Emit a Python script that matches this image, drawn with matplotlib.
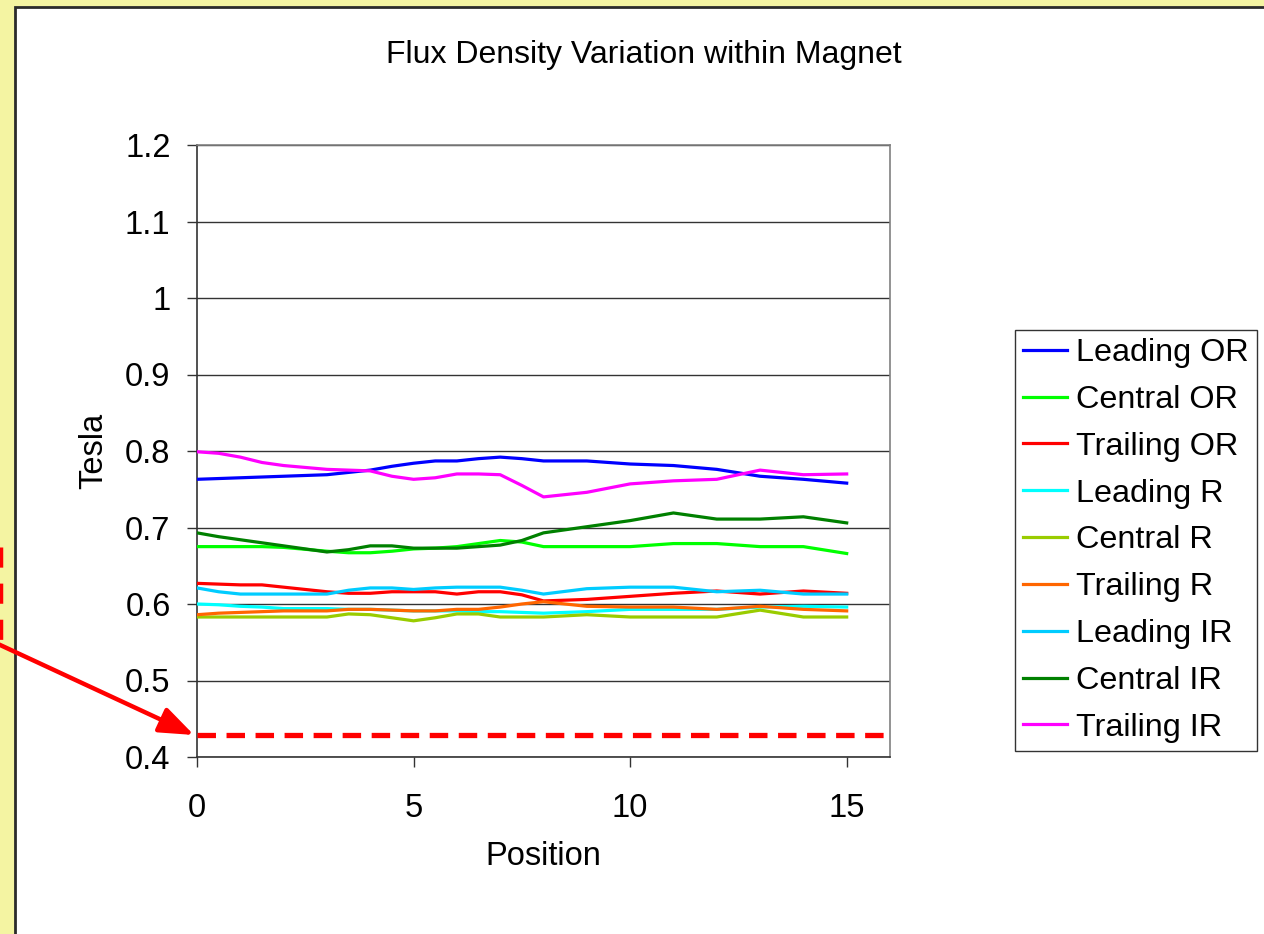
#!/usr/bin/env python3
"""Flux density variation within magnet - line chart recreation."""

import matplotlib
matplotlib.use("Agg")
import matplotlib.pyplot as plt
from matplotlib.lines import Line2D
from matplotlib.patches import Rectangle

plt.rcParams["font.family"] = ["Liberation Sans", "DejaVu Sans"]

POSITION = [0, 0.5, 1, 1.5, 2, 3, 3.5, 4, 4.5, 5, 5.5, 6, 6.5, 7, 7.5, 8, 9, 10, 11, 12, 13, 14, 15]

LEADING_OR = [0.763, 0.764, 0.765, 0.766, 0.767, 0.769, 0.772, 0.775, 0.780, 0.784, 0.787, 0.787,
              0.790, 0.792, 0.790, 0.787, 0.787, 0.783, 0.781, 0.776, 0.767, 0.763, 0.758]
CENTRAL_OR = [0.675, 0.675, 0.675, 0.675, 0.674, 0.669, 0.667, 0.667, 0.669, 0.672, 0.673, 0.675,
              0.679, 0.683, 0.681, 0.675, 0.675, 0.675, 0.679, 0.679, 0.675, 0.675, 0.666]
TRAILING_OR = [0.627, 0.626, 0.625, 0.625, 0.622, 0.616, 0.614, 0.614, 0.616, 0.616, 0.616, 0.613,
               0.616, 0.616, 0.612, 0.604, 0.606, 0.610, 0.614, 0.617, 0.613, 0.617, 0.614]
LEADING_R = [0.600, 0.599, 0.597, 0.596, 0.594, 0.594, 0.593, 0.593, 0.592, 0.591, 0.591, 0.591,
             0.590, 0.590, 0.589, 0.588, 0.590, 0.593, 0.593, 0.593, 0.596, 0.597, 0.596]
CENTRAL_R = [0.583, 0.583, 0.583, 0.583, 0.583, 0.583, 0.587, 0.586, 0.582, 0.578, 0.582, 0.587,
             0.587, 0.583, 0.583, 0.583, 0.586, 0.583, 0.583, 0.583, 0.592, 0.583, 0.583]
TRAILING_R = [0.586, 0.588, 0.589, 0.590, 0.591, 0.591, 0.593, 0.593, 0.592, 0.591, 0.591, 0.593,
              0.593, 0.596, 0.600, 0.603, 0.597, 0.596, 0.596, 0.593, 0.597, 0.593, 0.591]
LEADING_IR = [0.621, 0.616, 0.613, 0.613, 0.613, 0.613, 0.618, 0.621, 0.621, 0.619, 0.621, 0.622,
              0.622, 0.622, 0.618, 0.613, 0.620, 0.622, 0.622, 0.616, 0.618, 0.613, 0.613]
CENTRAL_IR = [0.693, 0.688, 0.684, 0.680, 0.676, 0.668, 0.671, 0.676, 0.676, 0.673, 0.673, 0.673,
              0.675, 0.677, 0.683, 0.693, 0.701, 0.709, 0.719, 0.711, 0.711, 0.714, 0.706]
TRAILING_IR = [0.799, 0.797, 0.792, 0.785, 0.781, 0.776, 0.775, 0.774, 0.767, 0.763, 0.765, 0.770,
               0.770, 0.769, 0.755, 0.740, 0.746, 0.757, 0.761, 0.763, 0.775, 0.769, 0.770]

SERIES = [
    ("Leading OR", LEADING_OR, "#0000FF"),
    ("Central OR", CENTRAL_OR, "#00FF00"),
    ("Trailing OR", TRAILING_OR, "#FF0000"),
    ("Leading R", LEADING_R, "#00FFFF"),
    ("Central R", CENTRAL_R, "#99CC00"),
    ("Trailing R", TRAILING_R, "#FF6600"),
    ("Leading IR", LEADING_IR, "#00CCFF"),
    ("Central IR", CENTRAL_IR, "#008000"),
    ("Trailing IR", TRAILING_IR, "#FF00FF"),
]

LIMIT_LINE = 0.429
W, H = 1264, 934


def fx(px):
    return px / W


def fy(py):
    return 1 - py / H


def main() -> None:
    fig = plt.figure(figsize=(W / 100, H / 100), dpi=100)
    fig.patch.set_facecolor("#F4F4A2")

    # white chart panel with dark top/left edge, behind everything
    fig.patches.append(Rectangle((fx(15), fy(1000)), fx(1400), fy(7) - fy(1000),
                                 transform=fig.transFigure, facecolor="white",
                                 edgecolor="#2b2b2b", linewidth=2.0, zorder=-10))

    ax = fig.add_axes([fx(197), fy(757), fx(890) - fx(197), fy(145) - fy(757)])
    ax.set_facecolor("white")
    for name, vals, color in SERIES:
        ax.plot(POSITION, vals, color=color, linewidth=2.3, label=name, zorder=3)

    ax.plot([0, 16], [LIMIT_LINE, LIMIT_LINE], color="#FF0000", linewidth=3.8,
            dashes=(3.5, 2.0), solid_capstyle="butt", zorder=4, clip_on=False)

    ax.set_xlim(0, 16)
    ax.set_ylim(0.4, 1.2)
    ax.set_xticks([0, 5, 10, 15])
    ax.set_yticks([0.4, 0.5, 0.6, 0.7, 0.8, 0.9, 1.0, 1.1, 1.2])
    ax.set_yticklabels(["0.4", "0.5", "0.6", "0.7", "0.8", "0.9", "1", "1.1", "1.2"])
    ax.grid(axis="y", color="#333333", linewidth=1.0)
    ax.set_axisbelow(True)
    ax.tick_params(axis="both", labelsize=23.5, direction="out", length=7, width=1,
                   color="#333333", pad=12)
    ax.tick_params(axis="x", pad=19)
    for side in ("left", "bottom"):
        ax.spines[side].set_color("#333333")
        ax.spines[side].set_linewidth(1.2)
    for side in ("top", "right"):
        ax.spines[side].set_color("#808080")
        ax.spines[side].set_linewidth(1.2)

    ax.set_xlabel("Position", fontsize=23.5, labelpad=12)
    ax.set_ylabel("Tesla", fontsize=23.5, labelpad=11)
    fig.text(fx(644), fy(55), "Flux Density Variation within Magnet", fontsize=23,
             ha="center", va="center")

    leg = ax.legend(loc="upper left", bbox_to_anchor=(fx(1015), fy(330)),
                    bbox_transform=fig.transFigure, fontsize=23.3, frameon=True,
                    fancybox=False, edgecolor="black", borderpad=0.25,
                    labelspacing=0.52, handlelength=1.35, handletextpad=0.3,
                    borderaxespad=0)
    leg.get_frame().set_linewidth(1.0)

    # dashed red box edge at the left border and the arrow pointing at the limit line
    fig.lines.append(Line2D([fx(1), fx(1)], [fy(547), fy(645)], transform=fig.transFigure,
                            color="#FF0000", linewidth=2.5, dashes=(5.8, 4.6), zorder=5))
    arrow = ax.annotate("", xy=(fx(194), fy(735)), xycoords="figure fraction",
                        xytext=(fx(-2), fy(644)), textcoords="figure fraction",
                        arrowprops=dict(arrowstyle="-|>,head_length=2.1,head_width=0.8",
                                        color="#FF0000", linewidth=3.2,
                                        shrinkA=0, shrinkB=0))
    arrow.set_clip_on(False)
    arrow.arrow_patch.set_clip_on(False)

    fig.savefig("out.png", dpi=100, facecolor=fig.get_facecolor())


if __name__ == "__main__":
    main()
